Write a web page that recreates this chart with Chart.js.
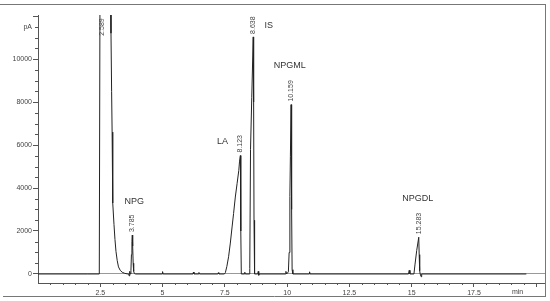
<!DOCTYPE html>
<html><head><meta charset="utf-8">
<script src="https://cdn.jsdelivr.net/npm/chart.js@4"></script>
<style>html,body{margin:0;padding:0;background:#fff}canvas{display:block}</style>
</head><body>
<canvas id="c" width="550" height="301"></canvas>
<script>
// ---- data ----
const times  = [0, 2.0, 2.46, 2.49, 2.589, 2.75, 2.90, 2.93, 2.955, 2.975, 2.99, 3.01, 3.05, 3.09, 3.13, 3.18, 3.23, 3.30, 3.38, 3.48, 3.58, 3.64, 3.66, 3.68, 3.70, 3.73, 3.75, 3.77, 3.785, 3.80, 3.82, 3.84, 3.87, 3.92,
  4.98, 5.00, 5.02, 6.22, 6.24, 6.26, 6.44, 6.46, 6.48, 7.22, 7.24, 7.26,
  7.48, 7.52, 7.58, 7.65, 7.72, 7.79, 7.85, 7.92, 7.99, 8.06, 8.09, 8.123, 8.14, 8.16,
  8.28, 8.30, 8.32, 8.47, 8.50, 8.53, 8.58, 8.638, 8.655, 8.67, 8.685, 8.70,
  8.82, 8.84, 8.86, 8.88, 9.92, 9.95, 9.98, 10.05, 10.08, 10.11, 10.13, 10.159, 10.18, 10.20, 10.23,
  10.88, 10.90, 10.92, 14.87, 14.90, 14.93, 15.09, 15.13, 15.20, 15.283, 15.30, 15.32, 15.34, 15.38, 15.40, 19.6];
const signal = [0, 0, 0, 14000, 30000, 26000, 15000, 11200, 8500, 6600, 4500, 3300, 2300, 1600, 1050, 620, 330, 170, 80, 30, 5, 0, -90, 120, 0, 150, 900, 1500, 1810, 1300, 500, 120, 20, 0,
  0, 110, 0, 0, 90, 0, 0, 70, 0, 0, 60, 0,
  0, 60, 350, 800, 1440, 2190, 2810, 3580, 4200, 4820, 5250, 5510, 2000, 0,
  0, 80, 0, 0, 250, 5800, 8200, 11030, 8000, 2500, 300, 0,
  0, 120, -60, 0, 0, 120, 0, 100, 1000, 3600, 5450, 7880, 3000, 200, 0,
  0, 100, 0, 0, 170, 0, 0, 420, 1090, 1710, 900, 150, 0, -130, 0, 0];

const xMajorTicks = [2.5, 5, 7.5, 10, 12.5, 15, 17.5, 20];
const xTickLabels = ['2.5', '5', '7.5', '10', '12.5', '15', '17.5', ''];
const xMinorTicks = [0.5, 1, 1.5, 2, 3, 3.5, 4, 4.5, 5.5, 6, 6.5, 7, 8, 8.5, 9, 9.5, 10.5, 11, 11.5, 12, 13, 13.5, 14, 14.5, 15.5, 16, 16.5, 17, 18, 18.5, 19, 19.5];
const yMajorTicks = [0, 2000, 4000, 6000, 8000, 10000, 12000];
const yTickLabels = ['0', '2000', '4000', '6000', '8000', '10000', ''];
const yMinorTicks = [500, 1000, 1500, 2500, 3000, 3500, 4500, 5000, 5500, 6500, 7000, 7500, 8500, 9000, 9500, 10500, 11000, 11500];

const peakTimes   = [2.589, 3.785, 8.123, 8.638, 10.159, 15.283];
const peakLabelAt = [10940, 1810, 5510, 11030, 7880, 1710];
const compoundNames = ['NPG', 'LA', 'IS', 'NPGML', 'NPGDL'];
const compoundTimes = [3.86, 7.41, 9.26, 10.1, 15.24];
const compoundAt    = [3380, 6160, 11540, 9690, 3520];
const xUnit = 'min', xUnitAt = 19.25;
const yUnit = 'pA',  yUnitAt = 11500;

// ---- drawing ----
const FONT = '"Liberation Sans", Arial, sans-serif';
const decor = {
  id: 'decor',
  afterDraw(chart) {
    const {ctx, chartArea: a, scales: {x, y}} = chart;
    ctx.save();
    ctx.strokeStyle = '#555'; ctx.lineWidth = 1;
    ctx.beginPath();
    xMinorTicks.forEach(v => { const px = Math.round(x.getPixelForValue(v)) + 0.5; ctx.moveTo(px, a.bottom); ctx.lineTo(px, a.bottom + 2); });
    yMinorTicks.forEach(v => { const py = Math.round(y.getPixelForValue(v)) + 0.5; ctx.moveTo(a.left - 3, py); ctx.lineTo(a.left, py); });
    ctx.stroke();
    // outer frame
    ctx.strokeStyle = '#777';
    ctx.beginPath();
    ctx.moveTo(0, 4.5); ctx.lineTo(546, 4.5);
    ctx.moveTo(3, 296.5); ctx.lineTo(546, 296.5);
    ctx.moveTo(545.5, 4); ctx.lineTo(545.5, 297);
    ctx.stroke();
    // units
    ctx.fillStyle = '#444';
    ctx.font = '7px ' + FONT;
    ctx.textAlign = 'center'; ctx.textBaseline = 'top';
    ctx.fillText(xUnit, x.getPixelForValue(xUnitAt), a.bottom + 6);
    ctx.textAlign = 'right'; ctx.textBaseline = 'middle';
    ctx.fillText(yUnit, a.left - 6, y.getPixelForValue(yUnitAt));
    // retention time labels
    ctx.fillStyle = '#444';
    peakTimes.forEach((t, i) => {
      const px = x.getPixelForValue(t), py = y.getPixelForValue(peakLabelAt[i]);
      ctx.save();
      ctx.translate(px, py - 3);
      ctx.rotate(-Math.PI / 2);
      ctx.textAlign = 'left'; ctx.textBaseline = 'middle';
      ctx.fillText(t.toFixed(3), 0, 0);
      ctx.restore();
    });
    // compound names
    ctx.fillStyle = '#333';
    ctx.font = '9px ' + FONT;
    ctx.textAlign = 'center'; ctx.textBaseline = 'middle';
    compoundNames.forEach((n, i) => ctx.fillText(n, x.getPixelForValue(compoundTimes[i]), y.getPixelForValue(compoundAt[i])));
    ctx.restore();
  }
};

new Chart(document.getElementById('c'), {
  type: 'line',
  data: { datasets: [{
    data: times.map((t, i) => ({x: t, y: signal[i]})),
    borderColor: '#222', borderWidth: 1, pointRadius: 0, tension: 0, fill: false
  }]},
  options: {
    responsive: false, animation: false, devicePixelRatio: 1,
    layout: { padding: { left: 0, top: 15, right: 5, bottom: 0 } },
    plugins: { legend: { display: false }, tooltip: { enabled: false } },
    scales: {
      x: {
        type: 'linear', min: 0, max: 20.35,
        afterBuildTicks: s => { s.ticks = xMajorTicks.map(v => ({value: v})); },
        afterFit: s => { s.height = 18; },
        ticks: { callback: (v, i) => xTickLabels[i], font: { size: 7, family: FONT }, color: '#444', padding: 2, maxRotation: 0, autoSkip: false },
        grid: { drawOnChartArea: false, tickLength: 4, color: '#555' },
        border: { color: '#555' }
      },
      y: {
        min: -420, max: 12050,
        afterBuildTicks: s => { s.ticks = yMajorTicks.map(v => ({value: v})); },
        afterFit: s => { s.width = 38; },
        ticks: { callback: (v, i) => yTickLabels[i], font: { size: 7, family: FONT }, color: '#444', padding: 1, autoSkip: false },
        grid: { drawOnChartArea: true, tickLength: 5, tickColor: '#555', color: c => (c.tick && c.tick.value === 0) ? '#999' : 'rgba(0,0,0,0)' },
        border: { color: '#555' }
      }
    }
  },
  plugins: [decor]
});
</script>
</body></html>
